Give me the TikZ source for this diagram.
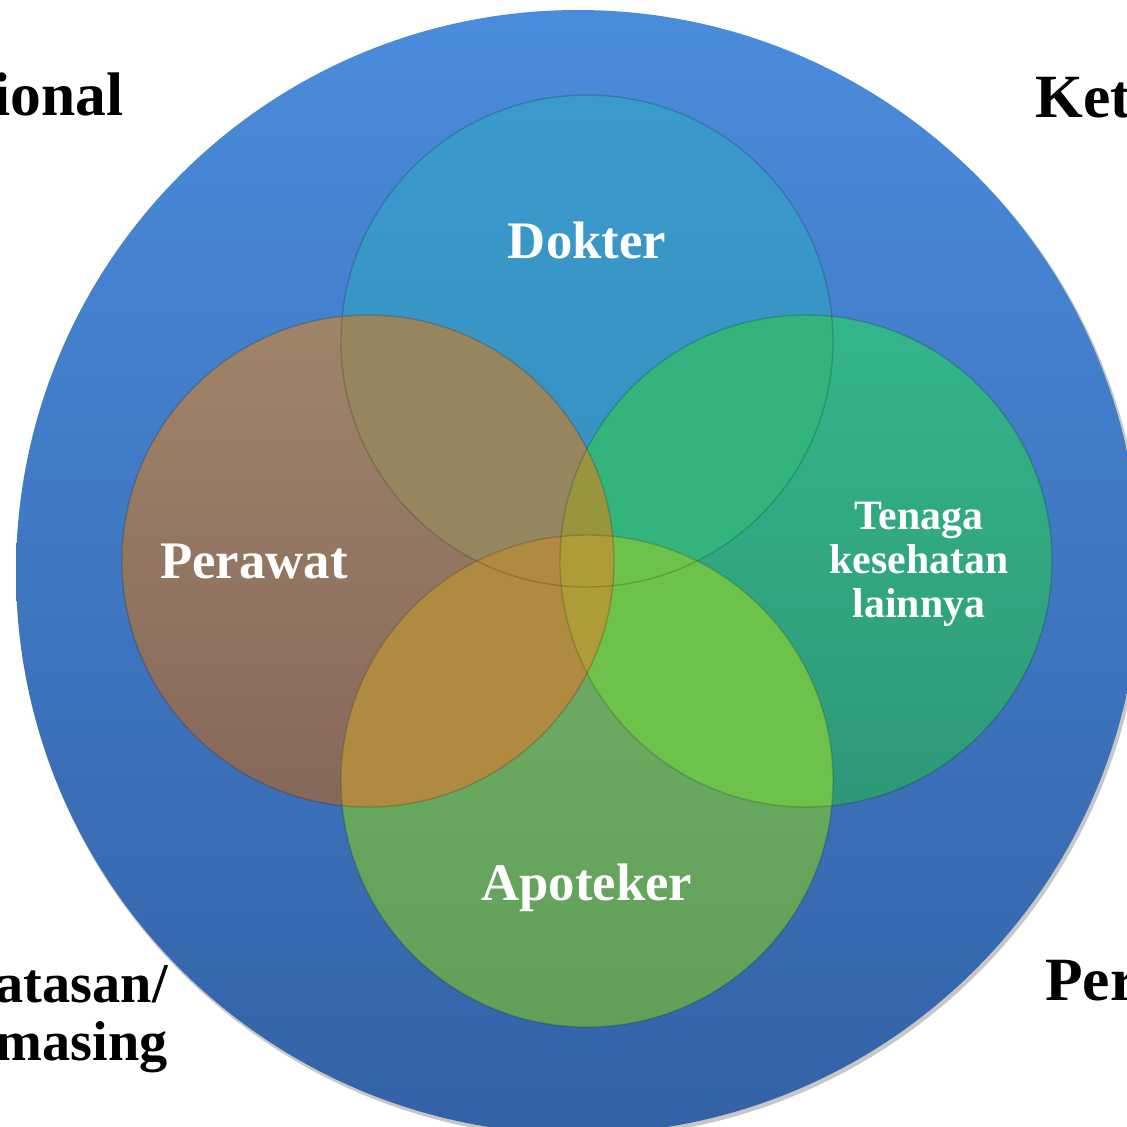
\documentclass[tikz,border=0pt]{standalone}
\usepackage{fontspec}
\setmainfont{Liberation Serif}
\definecolor{bigtop}{HTML}{4A8CDC}
\definecolor{bigbot}{HTML}{3362A6}
\definecolor{dtop}{HTML}{3A9ACC}
\definecolor{dbot}{HTML}{3690C0}
\definecolor{ptop}{HTML}{A08468}
\definecolor{pbot}{HTML}{86685C}
\definecolor{ttop}{HTML}{33B68A}
\definecolor{tbot}{HTML}{2E9878}
\definecolor{atop}{HTML}{6EAE62}
\definecolor{abot}{HTML}{62A05A}
\definecolor{cDP}{HTML}{968660}
\definecolor{cDT}{HTML}{32B47C}
\definecolor{cDA}{HTML}{74BE48}
\definecolor{cPA}{HTML}{B08A40}
\definecolor{cTA}{HTML}{6CC24A}
\definecolor{cPT}{HTML}{97963F}
\definecolor{cPTA}{HTML}{AE9C38}
\tikzset{
  rim/.style={draw=black, draw opacity=0.16, line width=0.8pt},
  inlabel/.style={text=white, font=\bfseries\fontsize{30}{32}\selectfont, inner sep=0pt},
  smalllabel/.style={text=white, font=\bfseries\fontsize{23.8}{24.8}\selectfont, align=center, inner sep=0pt},
  outlabel/.style={text=black, font=\bfseries\fontsize{35}{37}\selectfont, inner sep=0pt},
  outlabelsm/.style={text=black, font=\bfseries\fontsize{32}{33}\selectfont, inner sep=0pt}
}
\begin{document}
\begin{tikzpicture}[x=0.02cm,y=-0.02cm]
\useasboundingbox (0,0) rectangle (1127,1127);
\coordinate (big) at (578,572);
\coordinate (bigsh) at (580,575);
\coordinate (D) at (587,341);
\coordinate (P) at (368,561);
\coordinate (T) at (806,561);
\coordinate (A) at (587,781);
\def\rr{246}
% outer circle with soft shadow
\fill[black, opacity=0.22] (bigsh) circle (563);
\shade[top color=bigtop, bottom color=bigbot] (big) circle (562);
% base circles
\shade[top color=dtop, bottom color=dbot] (D) circle (\rr);
\shade[top color=ptop, bottom color=pbot] (P) circle (\rr);
\shade[top color=ttop, bottom color=tbot] (T) circle (\rr);
\shade[top color=atop, bottom color=abot] (A) circle (\rr);
% overlaps
\begin{scope}\clip (D) circle (\rr); \fill[cDP] (P) circle (\rr);\end{scope}
\begin{scope}\clip (D) circle (\rr); \fill[cDT] (T) circle (\rr);\end{scope}
\begin{scope}\clip (D) circle (\rr); \fill[cDA] (A) circle (\rr);\end{scope}
\begin{scope}\clip (P) circle (\rr); \fill[cPA] (A) circle (\rr);\end{scope}
\begin{scope}\clip (T) circle (\rr); \fill[cTA] (A) circle (\rr);\end{scope}
\begin{scope}\clip (P) circle (\rr); \fill[cPT] (T) circle (\rr);\end{scope}
\begin{scope}\clip (P) circle (\rr); \clip (T) circle (\rr); \fill[cPTA] (A) circle (\rr);\end{scope}
% rims
\draw[rim] (D) circle (\rr);
\draw[rim] (P) circle (\rr);
\draw[rim] (T) circle (\rr);
\draw[rim] (A) circle (\rr);
% labels
\node[inlabel, anchor=base] (ldokter) at (587,258) {Dokter};
\node[inlabel, anchor=base] (lperawat) at (254,578) {Perawat};
\node[inlabel, anchor=base] (lapoteker) at (587,900) {Apoteker};
\node[smalllabel, anchor=base] (ltenaga) at (919,617) {Tenaga\\kesehatan\\lainnya};
% outside texts (cut by the page edges, as in the reference)
\node[outlabel, anchor=base east] (lional) at (124,115) {ional};
\node[outlabel, anchor=base west] (lket) at (1035,117) {Ket};
\node[outlabelsm, anchor=base east, align=right] (latasan) at (168,1060) {atasan/\\masing};
\node[outlabel, anchor=base west] (lper) at (1045,1000) {Per};
\end{tikzpicture}
\end{document}
